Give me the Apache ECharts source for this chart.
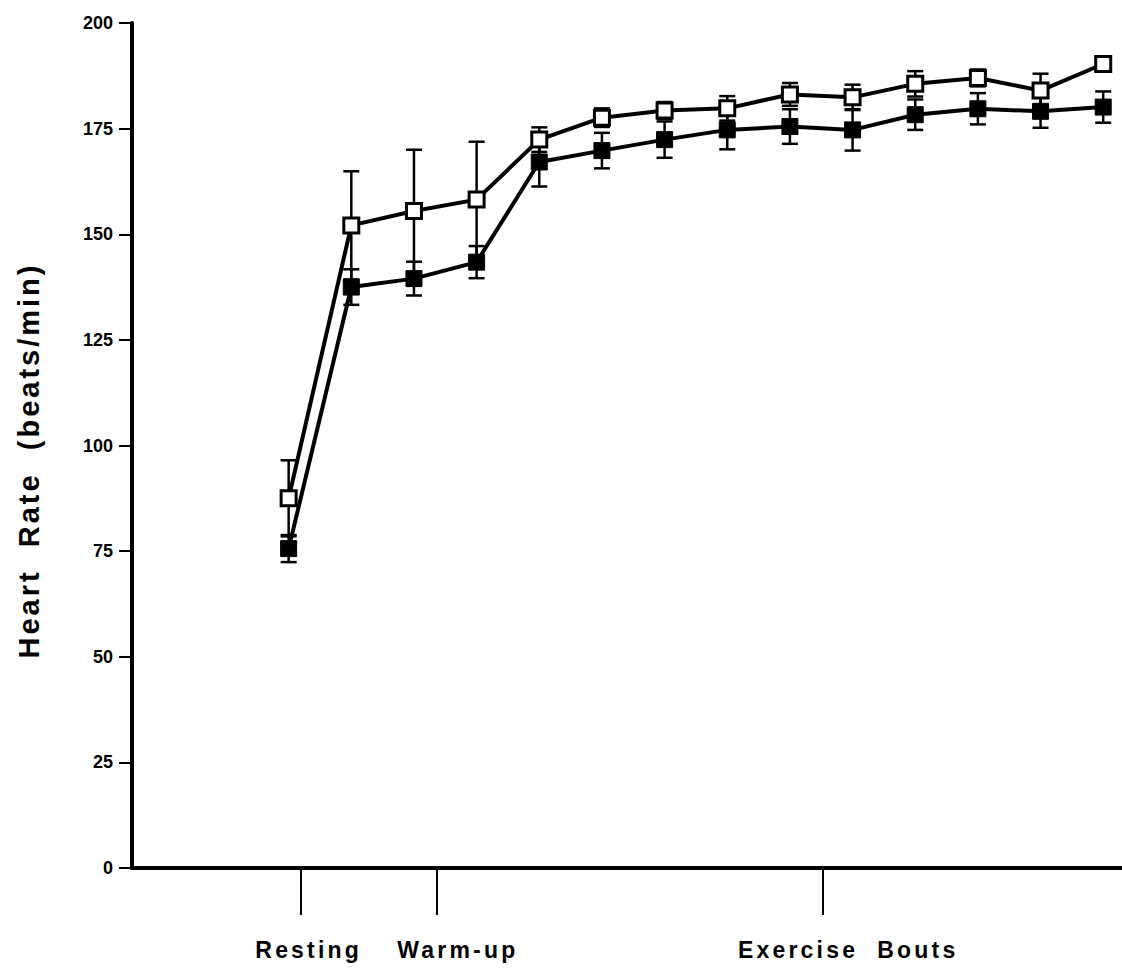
<!DOCTYPE html>
<html>
<head>
<meta charset="utf-8">
<script src="https://cdn.jsdelivr.net/npm/echarts@6/dist/echarts.min.js"></script>
<style>
  html, body { margin: 0; padding: 0; background: #fff; }
  #chart { width: 1122px; height: 969px; }
  /* tracked lettering for the axis title and phase labels */
  #chart text[style*="29px"] { letter-spacing: 3px; }
  #chart text[style*="23px"] { letter-spacing: 3.2px; }
</style>
</head>
<body>
<div id="chart"></div>
<script>
// Measurement order: 1 = resting, 2-4 = warm-up, 5-14 = exercise bouts
const positions = [1, 2, 3, 4, 5, 6, 7, 8, 9, 10, 11, 12, 13, 14];

// Open squares: mean heart rate and error (beats/min)
const openMean = [87.5, 152.1, 155.5, 158.2, 172.4, 177.6, 179.3, 179.8, 183.1, 182.4, 185.6, 187.0, 184.0, 190.3];
const openErr  = [9.0, 12.8, 14.5, 13.7, 2.9, 2.2, 2.0, 2.9, 2.7, 3.0, 3.0, 2.0, 4.0, 1.5];

// Filled squares: mean heart rate and error (beats/min)
const filledMean = [75.6, 137.5, 139.5, 143.4, 167.1, 169.8, 172.4, 174.7, 175.5, 174.7, 178.3, 179.7, 179.1, 180.1];
const filledErr  = [3.2, 4.2, 4.0, 3.8, 5.8, 4.2, 4.3, 4.6, 4.1, 4.9, 3.6, 3.7, 3.9, 3.7];

// Phase markers below the x axis
const phaseNames = ['Resting', 'Warm-up', 'Exercise  Bouts'];
const phaseTicks = [1.2, 3.37, 9.52];
const phaseLabelPos = [1.32, 3.7, 9.93];

const yTicks = [0, 25, 50, 75, 100, 125, 150, 175, 200];

const FONT = 'Liberation Sans, Arial, Helvetica, sans-serif';

const toPairs = (xs, m, e) => xs.map((x, i) => [x, m[i], e[i]]);

function errorBarRenderer(params, api) {
  const x = api.value(0), m = api.value(1), e = api.value(2);
  const hi = api.coord([x, m + e]);
  const lo = api.coord([x, m - e]);
  const half = 8;
  const style = { stroke: '#000', lineWidth: 2.5 };
  return {
    type: 'group',
    children: [
      { type: 'line', shape: { x1: hi[0], y1: hi[1], x2: lo[0], y2: lo[1] }, style },
      { type: 'line', shape: { x1: hi[0] - half, y1: hi[1], x2: hi[0] + half, y2: hi[1] }, style },
      { type: 'line', shape: { x1: lo[0] - half, y1: lo[1], x2: lo[0] + half, y2: lo[1] }, style }
    ]
  };
}

const chart = echarts.init(document.getElementById('chart'), null, { renderer: 'svg' });

chart.setOption({
  animation: false,
  backgroundColor: '#fff',
  grid: { left: 132, right: 0, top: 23, bottom: 101, outerBoundsMode: 'none', containLabel: false },
  xAxis: {
    type: 'value',
    min: -1.5,
    max: 14.3,
    splitLine: { show: false },
    axisLine: { show: true, onZero: false, lineStyle: { color: '#000', width: 4 } },
    axisTick: {
      show: true,
      customValues: phaseTicks,
      length: 47,
      lineStyle: { color: '#000', width: 2 }
    },
    axisLabel: {
      show: true,
      customValues: phaseLabelPos,
      margin: 70,
      color: '#000',
      fontFamily: FONT,
      fontWeight: 'bold',
      fontSize: 23,
      formatter: (v) => {
        const i = phaseLabelPos.indexOf(v);
        return i >= 0 ? phaseNames[i] : '';
      }
    }
  },
  yAxis: {
    type: 'value',
    min: yTicks[0],
    max: yTicks[yTicks.length - 1],
    interval: 25,
    name: 'Heart  Rate  (beats/min)',
    nameLocation: 'middle',
    nameRotate: 90,
    nameGap: 89,
    nameTextStyle: {
      color: '#000',
      fontFamily: FONT,
      fontWeight: 'bold',
      fontSize: 29,
      padding: [0, 30, 0, 0]
    },
    splitLine: { show: false },
    axisLine: { show: true, onZero: false, lineStyle: { color: '#000', width: 4 } },
    axisTick: { show: true, length: 13, lineStyle: { color: '#000', width: 2 } },
    axisLabel: {
      margin: 19,
      color: '#000',
      fontFamily: FONT,
      fontWeight: 'bold',
      fontSize: 18
    }
  },
  series: [
    {
      type: 'custom',
      name: 'filled error',
      renderItem: errorBarRenderer,
      encode: { x: 0, y: 1 },
      data: toPairs(positions, filledMean, filledErr),
      z: 1
    },
    {
      type: 'custom',
      name: 'open error',
      renderItem: errorBarRenderer,
      encode: { x: 0, y: 1 },
      data: toPairs(positions, openMean, openErr),
      z: 1
    },
    {
      type: 'line',
      name: 'filled',
      data: positions.map((x, i) => [x, filledMean[i]]),
      symbol: 'rect',
      symbolSize: 16,
      showAllSymbol: true,
      lineStyle: { color: '#000', width: 4 },
      itemStyle: { color: '#000', borderColor: '#000', borderWidth: 1 },
      z: 3
    },
    {
      type: 'line',
      name: 'open',
      data: positions.map((x, i) => [x, openMean[i]]),
      symbol: 'rect',
      symbolSize: 15,
      showAllSymbol: true,
      lineStyle: { color: '#000', width: 4 },
      itemStyle: { color: '#fff', borderColor: '#000', borderWidth: 3 },
      z: 4
    }
  ]
});
</script>
</body>
</html>
